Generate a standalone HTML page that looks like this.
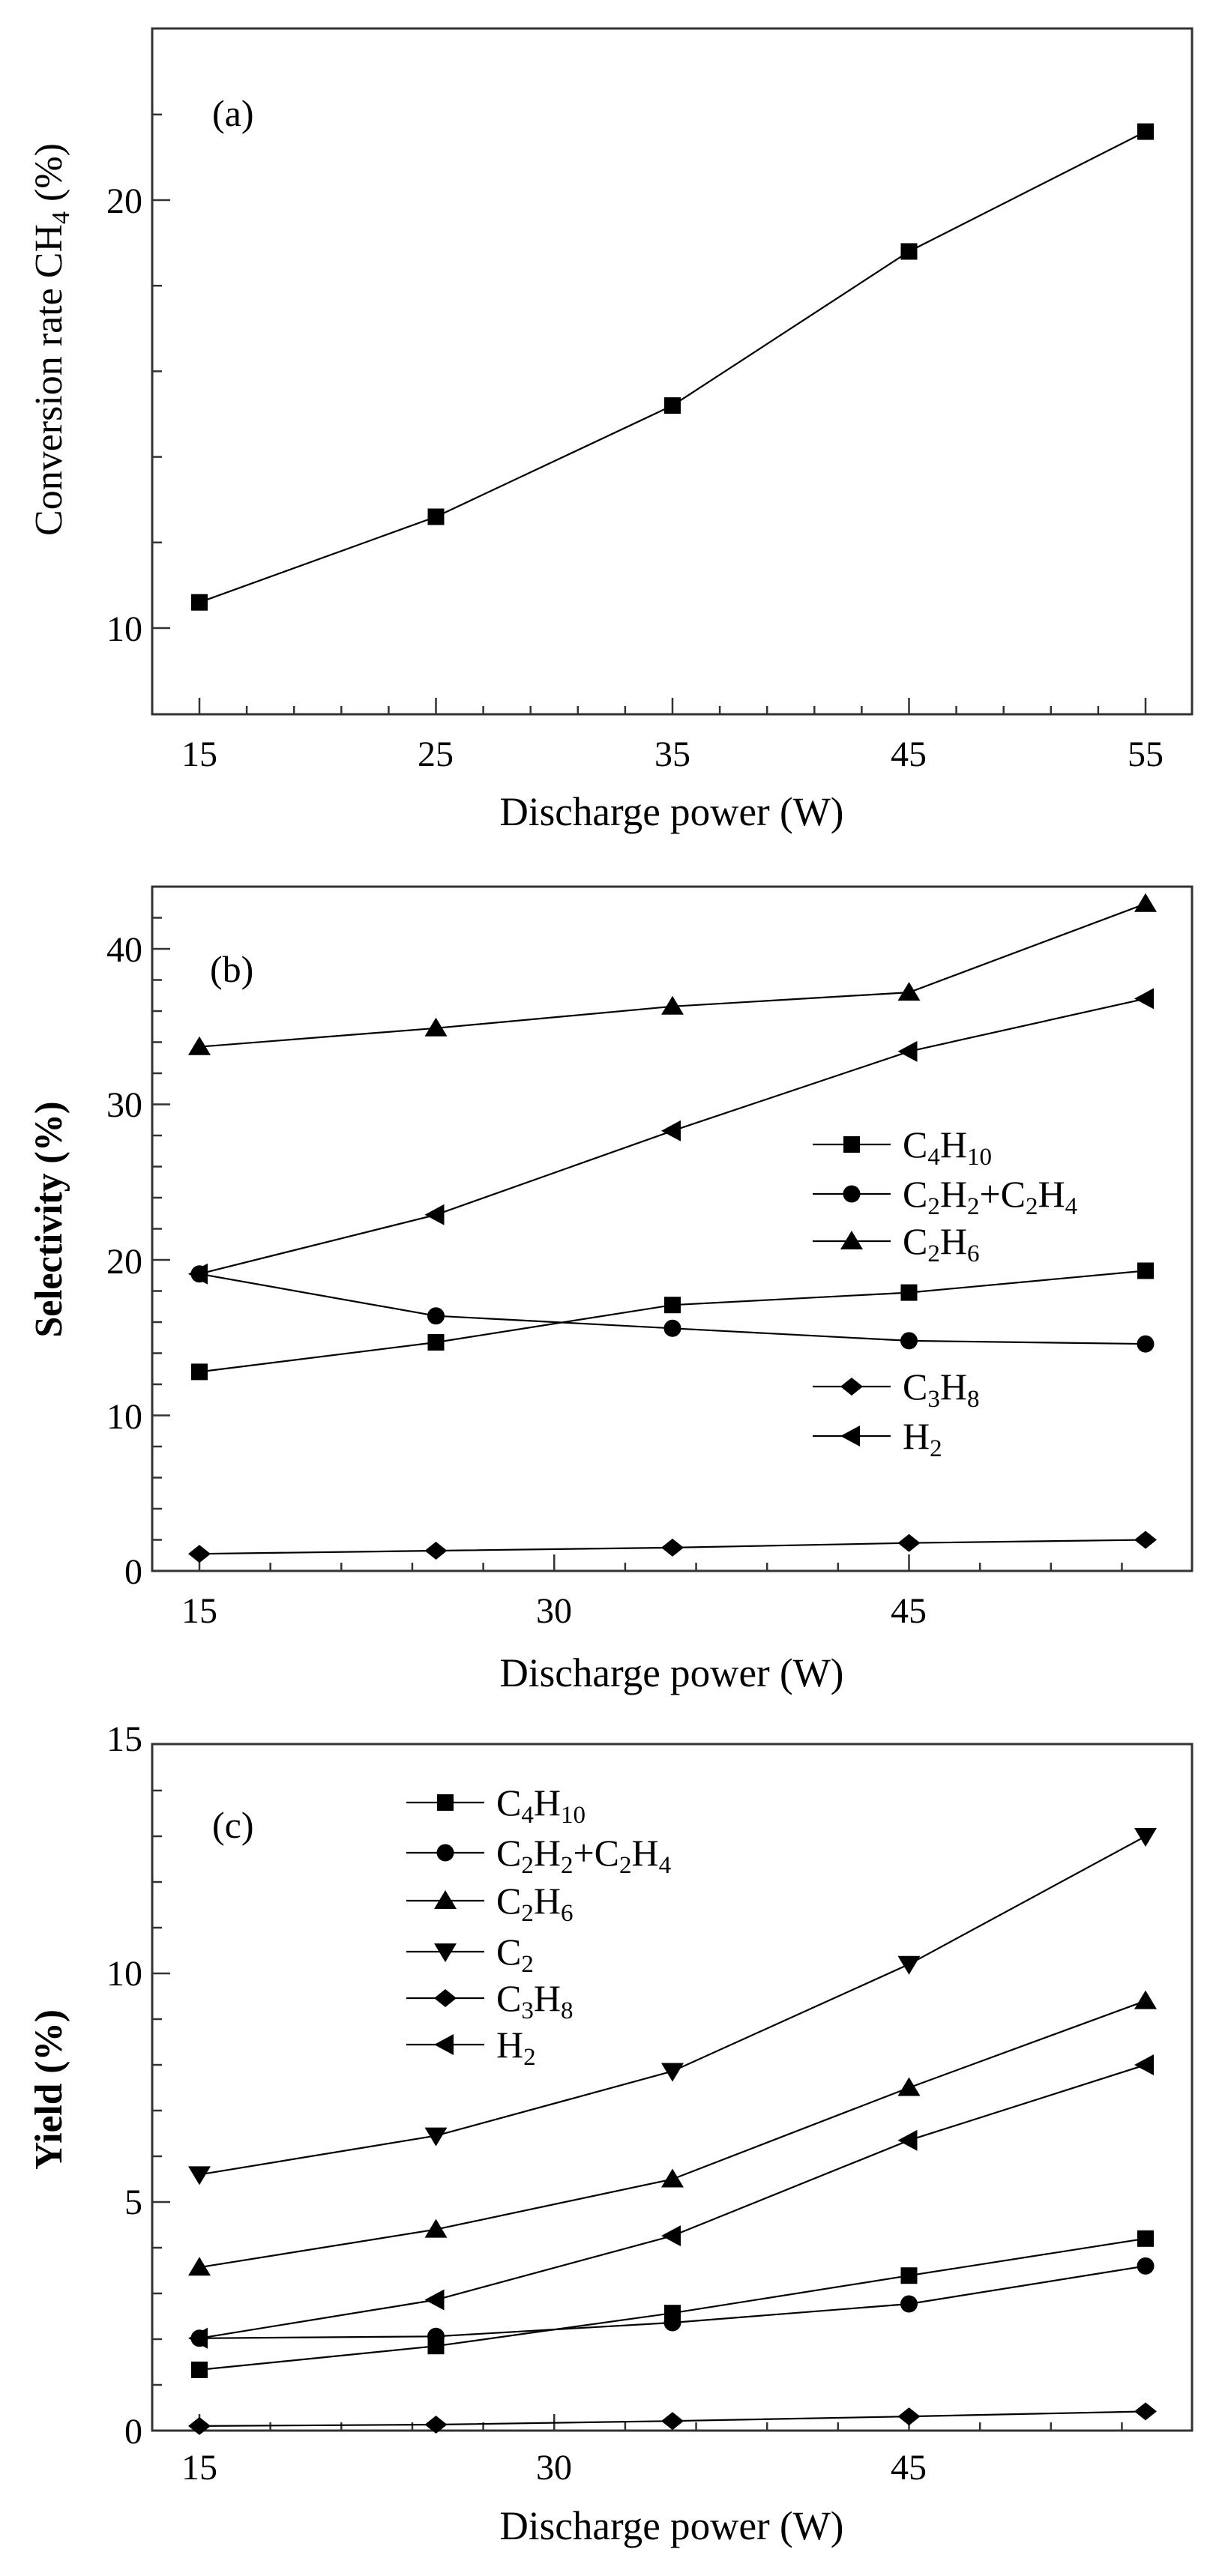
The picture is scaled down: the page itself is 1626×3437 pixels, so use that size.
<!DOCTYPE html>
<html><head><meta charset="utf-8"><style>
html,body{margin:0;padding:0;background:#fff;}
svg{display:block;}
text{font-family:"Liberation Serif",serif;fill:#000;}
</style></head><body>
<svg id="s" width="1626" height="3437" viewBox="0 0 1626 3437" xmlns="http://www.w3.org/2000/svg">
<g id="g"></g>
<!-- Panel a texts -->
<text x="283" y="168" font-size="50">(a)</text>
<text x="190" y="284" font-size="48" text-anchor="end">20</text>
<text x="190" y="855" font-size="48" text-anchor="end">10</text>
<g font-size="48" text-anchor="middle">
<text x="266" y="1022">15</text><text x="581" y="1022">25</text><text x="897" y="1022">35</text><text x="1212" y="1022">45</text><text x="1528" y="1022">55</text>
</g>
<text x="896" y="1101" font-size="54" text-anchor="middle" textLength="459" lengthAdjust="spacingAndGlyphs">Discharge power (W)</text>
<text transform="translate(82,453) rotate(-90)" font-size="52" text-anchor="middle" textLength="524" lengthAdjust="spacingAndGlyphs">Conversion rate CH<tspan font-size="34" dy="10">4</tspan><tspan dy="-10"> (%)</tspan></text>

<!-- Panel b texts -->
<text x="280" y="1310" font-size="50">(b)</text>
<g font-size="48" text-anchor="end">
<text x="190" y="1283">40</text><text x="190" y="1490">30</text><text x="190" y="1699">20</text><text x="190" y="1906">10</text><text x="190" y="2113">0</text>
</g>
<g font-size="48" text-anchor="middle">
<text x="266" y="2165">15</text><text x="739" y="2165">30</text><text x="1212" y="2165">45</text>
</g>
<text x="896" y="2250" font-size="54" text-anchor="middle" textLength="459" lengthAdjust="spacingAndGlyphs">Discharge power (W)</text>
<text transform="translate(82,1627) rotate(-90)" font-size="52" font-weight="bold" text-anchor="middle" textLength="315" lengthAdjust="spacingAndGlyphs">Selectivity (%)</text>
<g font-size="50">
<text x="1204" y="1544">C<tspan font-size="33" dy="10">4</tspan><tspan dy="-10">H</tspan><tspan font-size="33" dy="10">10</tspan></text>
<text x="1204" y="1610">C<tspan font-size="33" dy="10">2</tspan><tspan dy="-10">H</tspan><tspan font-size="33" dy="10">2</tspan><tspan dy="-10">+C</tspan><tspan font-size="33" dy="10">2</tspan><tspan dy="-10">H</tspan><tspan font-size="33" dy="10">4</tspan></text>
<text x="1204" y="1673">C<tspan font-size="33" dy="10">2</tspan><tspan dy="-10">H</tspan><tspan font-size="33" dy="10">6</tspan></text>
<text x="1204" y="1867">C<tspan font-size="33" dy="10">3</tspan><tspan dy="-10">H</tspan><tspan font-size="33" dy="10">8</tspan></text>
<text x="1204" y="1933">H<tspan font-size="33" dy="10">2</tspan></text>
</g>

<!-- Panel c texts -->
<text x="283" y="2452" font-size="50">(c)</text>
<g font-size="48" text-anchor="end">
<text x="190" y="2336">15</text><text x="190" y="2649">10</text><text x="190" y="2954">5</text><text x="190" y="3260">0</text>
</g>
<g font-size="48" text-anchor="middle">
<text x="266" y="3308">15</text><text x="739" y="3308">30</text><text x="1212" y="3308">45</text>
</g>
<text x="896" y="3388" font-size="54" text-anchor="middle" textLength="459" lengthAdjust="spacingAndGlyphs">Discharge power (W)</text>
<text transform="translate(82,2788) rotate(-90)" font-size="52" font-weight="bold" text-anchor="middle" textLength="214" lengthAdjust="spacingAndGlyphs">Yield (%)</text>
<g font-size="50">
<text x="662" y="2422">C<tspan font-size="33" dy="10">4</tspan><tspan dy="-10">H</tspan><tspan font-size="33" dy="10">10</tspan></text>
<text x="662" y="2489">C<tspan font-size="33" dy="10">2</tspan><tspan dy="-10">H</tspan><tspan font-size="33" dy="10">2</tspan><tspan dy="-10">+C</tspan><tspan font-size="33" dy="10">2</tspan><tspan dy="-10">H</tspan><tspan font-size="33" dy="10">4</tspan></text>
<text x="662" y="2553">C<tspan font-size="33" dy="10">2</tspan><tspan dy="-10">H</tspan><tspan font-size="33" dy="10">6</tspan></text>
<text x="662" y="2621">C<tspan font-size="33" dy="10">2</tspan></text>
<text x="662" y="2683">C<tspan font-size="33" dy="10">3</tspan><tspan dy="-10">H</tspan><tspan font-size="33" dy="10">8</tspan></text>
<text x="662" y="2745">H<tspan font-size="33" dy="10">2</tspan></text>
</g>
</svg>
<script>
(function(){
var NS="http://www.w3.org/2000/svg",g=document.getElementById("g");
function el(t,a){var e=document.createElementNS(NS,t);for(var k in a)e.setAttribute(k,a[k]);g.appendChild(e);return e;}
var X=function(v){return 266+(v-15)*31.55;};
var L=203,R=1590;
function frame(top,bot){el("rect",{x:L,y:top,width:R-L,height:bot-top,fill:"none",stroke:"#333","stroke-width":3});}
function yt(y,major){el("line",{x1:L,y1:y,x2:L+(major?24:13),y2:y,stroke:"#333","stroke-width":2.5});}
function xt(v,bot,major){var x=X(v);el("line",{x1:x,y1:bot,x2:x,y2:bot-(major?22:11),stroke:"#333","stroke-width":2.5});}
function mk(type,x,y){
 if(type=="sq")el("rect",{x:x-11,y:y-11,width:22,height:22,fill:"#000"});
 else if(type=="ci")el("circle",{cx:x,cy:y,r:11.5,fill:"#000"});
 else if(type=="up")el("polygon",{points:(x-15)+","+(y+11)+" "+(x+15)+","+(y+11)+" "+x+","+(y-14),fill:"#000"});
 else if(type=="dn")el("polygon",{points:(x-15)+","+(y-11)+" "+(x+15)+","+(y-11)+" "+x+","+(y+14),fill:"#000"});
 else if(type=="di")el("polygon",{points:(x-15)+","+y+" "+x+","+(y-12)+" "+(x+15)+","+y+" "+x+","+(y+12),fill:"#000"});
 else if(type=="le")el("polygon",{points:(x-15)+","+y+" "+(x+11)+","+(y-14)+" "+(x+11)+","+(y+14),fill:"#000"});
}
var xs=[15,25,35,45,55];
function series(type,ys){
 var p=xs.map(function(v,i){return X(v)+","+ys[i];}).join(" ");
 el("polyline",{points:p,fill:"none",stroke:"#000","stroke-width":2.2});
 xs.forEach(function(v,i){mk(type,X(v),ys[i]);});
}
function leg(type,x1,x2,mx,y){el("line",{x1:x1,y1:y,x2:x2,y2:y,stroke:"#000","stroke-width":2.2});mk(type,mx,y);}
// Panel a
frame(38,953);
for(var v=10;v<=24;v+=2){var y=838-(v-10)*57.1;if(y>40)yt(y,v%10==0);}
for(var v=15;v<=55;v+=2){xt(v,953,(v-15)%10==0);}
series("sq",[803.7,689.5,541.1,335.5,175.6]);
// Panel b
frame(1183,2096);
for(var v=2;v<=44;v+=2){var y=2096-v*20.75;if(y>1186)yt(y,v%10==0);}
for(var v=15;v<=56;v+=3){xt(v,2096,v%15==0);}
series("sq",[1830.4,1791,1741.2,1724.6,1695.5]);
series("ci",[1699.7,1755.7,1772.3,1788.9,1793.1]);
series("up",[1396.7,1371.8,1342.8,1324.1,1205.8]);
series("di",[2073.2,2069,2064.9,2058.7,2054.5]);
series("le",[1699.7,1620.8,1508.8,1402.9,1332.4]);
leg("sq",1084,1188,1136,1527);leg("ci",1084,1188,1136,1593);leg("up",1084,1188,1136,1656);
leg("di",1084,1188,1136,1850);leg("le",1084,1188,1136,1916);
// Panel c
frame(2327,3243);
for(var v=1;v<=14;v++){yt(3243-v*61.0,v%5==0);}
for(var v=15;v<=56;v+=3){xt(v,3243,v%15==0);}
series("dn",[2901.4,2849.6,2763.5,2620.8,2450]);
series("up",[3025.2,2974.6,2907.5,2785.5,2669.6]);
series("le",[3119.8,3068.5,2983.1,2855.7,2755]);
series("sq",[3161.9,3130.2,3086.2,3036.2,2986.8]);
series("ci",[3119.8,3117.3,3099,3074,3023.4]);
series("di",[3236.9,3235,3230.2,3224.1,3217.4]);
leg("sq",542,646,594,2405);leg("ci",542,646,594,2472);leg("up",542,646,594,2536);
leg("dn",542,646,594,2604);leg("di",542,646,594,2666);leg("le",542,646,594,2728);
})();
</script>
</body></html>
